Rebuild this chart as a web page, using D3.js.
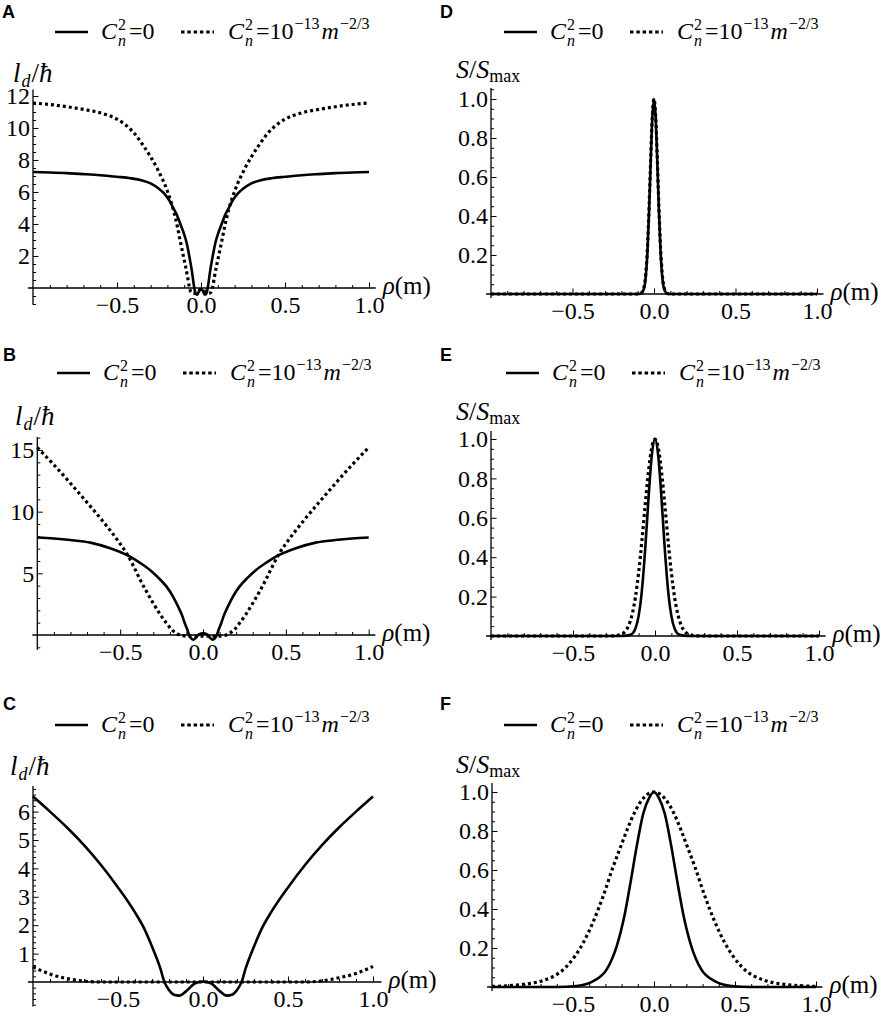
<!DOCTYPE html>
<html lang="en">
<head>
<meta charset="UTF-8">
<title>OAM density and intensity profiles</title>
<script src="https://d3js.org/d3.v7.min.js"></script>
<style>
  body { margin: 0; background: #fff; }
</style>
</head>
<body>
<script>
// ---- data ----
const xTicks = [-0.5, 0, 0.5, 1.0];
const yTicksA = [2, 4, 6, 8, 10, 12];
const yTicksB = [5, 10, 15];
const yTicksC = [1, 2, 3, 4, 5, 6];
const yTicksS = [0.2, 0.4, 0.6, 0.8, 1.0];

// panel A
const aSolidX = [-1, -0.9, -0.8, -0.7, -0.6, -0.5, -0.42, -0.35, -0.3, -0.25, -0.22, -0.19, -0.165, -0.145, -0.125, -0.105, -0.085, -0.07, -0.055, -0.045, -0.04, -0.03, -0.022, -0.012, 0,
                 0.012, 0.022, 0.03, 0.04, 0.045, 0.055, 0.07, 0.085, 0.105, 0.125, 0.145, 0.165, 0.19, 0.22, 0.25, 0.3, 0.35, 0.42, 0.5, 0.6, 0.7, 0.8, 0.9, 1];
const aSolidY = [7.25, 7.22, 7.18, 7.12, 7.05, 6.95, 6.86, 6.72, 6.54, 6.2, 5.92, 5.5, 5.0, 4.6, 4.06, 3.5, 2.8, 2.0, 1.1, 0.35, 0.0, -0.38, -0.42, -0.2, -0.05,
                 -0.2, -0.42, -0.38, 0.0, 0.35, 1.1, 2.0, 2.8, 3.5, 4.06, 4.6, 5.0, 5.5, 5.92, 6.2, 6.54, 6.72, 6.86, 6.95, 7.05, 7.12, 7.18, 7.22, 7.25];
const aDotX = [-1, -0.9, -0.8, -0.7, -0.6, -0.5, -0.45, -0.4, -0.34, -0.26, -0.2, -0.165, -0.14, -0.125, -0.11, -0.095, -0.08, -0.07, -0.06, -0.045, -0.025, 0,
               0.025, 0.045, 0.06, 0.07, 0.08, 0.095, 0.11, 0.125, 0.14, 0.165, 0.2, 0.26, 0.34, 0.4, 0.45, 0.5, 0.6, 0.7, 0.8, 0.9, 1];
const aDotY = [11.56, 11.47, 11.33, 11.16, 10.95, 10.55, 10.2, 9.7, 8.85, 7.45, 6.05, 4.9, 3.8, 3.0, 2.25, 1.5, 0.7, 0.1, -0.25, -0.35, -0.2, -0.1,
               -0.2, -0.35, -0.25, 0.1, 0.7, 1.5, 2.25, 3.0, 3.8, 4.9, 6.05, 7.45, 8.85, 9.7, 10.2, 10.55, 10.95, 11.16, 11.33, 11.47, 11.56];

// panel B
const bSolidX = [-1, -0.9, -0.8, -0.68, -0.56, -0.44, -0.38, -0.32, -0.27, -0.22, -0.18, -0.15, -0.125, -0.11, -0.095, -0.084, -0.07, -0.058, -0.045, -0.025, 0,
                 0.025, 0.045, 0.058, 0.07, 0.084, 0.095, 0.11, 0.125, 0.15, 0.18, 0.22, 0.27, 0.32, 0.38, 0.44, 0.56, 0.68, 0.8, 0.9, 1];
const bSolidY = [7.9, 7.82, 7.7, 7.49, 7.03, 6.35, 5.85, 5.27, 4.65, 3.92, 3.1, 2.3, 1.55, 0.95, 0.45, 0.0, -0.3, -0.38, -0.25, 0.05, 0.13,
                 0.05, -0.25, -0.38, -0.3, 0.0, 0.45, 0.95, 1.55, 2.3, 3.1, 3.92, 4.65, 5.27, 5.85, 6.35, 7.03, 7.49, 7.7, 7.82, 7.9];
const bDotX = [-1, -0.9, -0.8, -0.7, -0.6, -0.55, -0.5, -0.46, -0.42, -0.38, -0.34, -0.3, -0.26, -0.22, -0.19, -0.16, -0.13, -0.08, 0,
               0.08, 0.13, 0.16, 0.19, 0.22, 0.26, 0.3, 0.34, 0.38, 0.42, 0.46, 0.5, 0.55, 0.6, 0.7, 0.8, 0.9, 1];
const bDotY = [15.2, 13.8, 12.3, 10.75, 9.15, 8.3, 7.4, 6.6, 5.6, 4.5, 3.5, 2.57, 1.7, 0.95, 0.45, 0.14, -0.04, -0.1, -0.1,
               -0.1, -0.04, 0.14, 0.45, 0.95, 1.7, 2.57, 3.5, 4.5, 5.6, 6.6, 7.4, 8.3, 9.15, 10.75, 12.3, 13.8, 15.2];

// panel C
const cSolidX = [-1, -0.9, -0.8, -0.7, -0.6, -0.5, -0.4, -0.35, -0.3, -0.27, -0.25, -0.23, -0.2, -0.17, -0.14, -0.1, -0.05, 0,
                 0.05, 0.1, 0.14, 0.17, 0.2, 0.23, 0.25, 0.27, 0.3, 0.35, 0.4, 0.5, 0.6, 0.7, 0.8, 0.9, 1];
const cSolidY = [6.53, 6.0, 5.44, 4.82, 4.12, 3.33, 2.45, 1.93, 1.25, 0.8, 0.46, 0.05, -0.28, -0.45, -0.48, -0.33, -0.06, 0.02,
                 -0.06, -0.33, -0.48, -0.45, -0.28, 0.05, 0.46, 0.8, 1.25, 1.93, 2.45, 3.33, 4.12, 4.82, 5.44, 6.0, 6.53];
const cDotX = [-1, -0.9, -0.8, -0.7, -0.6, -0.4, -0.2, 0, 0.2, 0.4, 0.6, 0.7, 0.8, 0.9, 1];
const cDotY = [0.53, 0.28, 0.12, 0.03, 0.0, 0.0, 0.0, 0.0, 0.0, 0.0, 0.0, 0.04, 0.15, 0.3, 0.55];

// panel D
const dSolidX = [-1, -0.1, -0.08, -0.06, -0.05, -0.04, -0.03, -0.02, -0.01, 0, 0.01, 0.02, 0.03, 0.04, 0.05, 0.06, 0.08, 0.1, 1];
const dSolidY = [0, 0, 0.003, 0.033, 0.094, 0.22, 0.43, 0.685, 0.91, 1.0, 0.91, 0.685, 0.43, 0.22, 0.094, 0.033, 0.003, 0, 0];
const dDotX = [-1, -0.1, -0.08, -0.06, -0.05, -0.04, -0.03, -0.02, -0.01, 0, 0.01, 0.02, 0.03, 0.04, 0.05, 0.06, 0.08, 0.1, 1];
const dDotY = [0, 0, 0.004, 0.04, 0.11, 0.24, 0.45, 0.7, 0.915, 1.0, 0.915, 0.7, 0.45, 0.24, 0.11, 0.04, 0.004, 0, 0];

// panel E
const eSolidX = [-1, -0.2, -0.15, -0.12, -0.1, -0.08, -0.06, -0.04, -0.02, 0, 0.02, 0.04, 0.06, 0.08, 0.1, 0.12, 0.15, 0.2, 1];
const eSolidY = [0, 0, 0.006, 0.037, 0.101, 0.23, 0.438, 0.693, 0.912, 1.0, 0.912, 0.693, 0.438, 0.23, 0.101, 0.037, 0.006, 0, 0];
const eDotX = [-1, -0.3, -0.25, -0.2, -0.15, -0.12, -0.1, -0.08, -0.06, -0.04, -0.02, 0, 0.02, 0.04, 0.06, 0.08, 0.1, 0.12, 0.15, 0.2, 0.25, 0.3, 1];
const eDotY = [0, 0, 0.001, 0.011, 0.077, 0.194, 0.32, 0.482, 0.663, 0.833, 0.955, 1.0, 0.955, 0.833, 0.663, 0.482, 0.32, 0.194, 0.077, 0.011, 0.001, 0, 0];

// panel F
const fSolidX = [-1, -0.6, -0.478, -0.375, -0.292, -0.23, -0.179, -0.142, -0.107, -0.066, -0.03, 0, 0.03, 0.066, 0.107, 0.142, 0.179, 0.23, 0.292, 0.375, 0.478, 0.6, 1];
const fSolidY = [0, 0, 0.005, 0.03, 0.09, 0.21, 0.38, 0.55, 0.72, 0.89, 0.97, 1.0, 0.97, 0.89, 0.72, 0.55, 0.38, 0.21, 0.09, 0.03, 0.005, 0, 0];
const fDotX = [-1, -0.848, -0.683, -0.539, -0.436, -0.375, -0.313, -0.251, -0.21, -0.169, -0.12, -0.066, 0,
               0.066, 0.12, 0.169, 0.21, 0.251, 0.313, 0.375, 0.436, 0.539, 0.683, 0.848, 1];
const fDotY = [0.003, 0.01, 0.034, 0.106, 0.228, 0.335, 0.468, 0.62, 0.71, 0.80, 0.895, 0.968, 1.0,
               0.968, 0.895, 0.80, 0.71, 0.62, 0.468, 0.335, 0.228, 0.106, 0.034, 0.01, 0.003];

// ---- layout of the six panels ----
const panels = [
  {letter: "A", lp: [2, 18],    lg: [55, 32],   xr: [33, 369],     yd: [0, 12], yr: [288, 96],    yExt: [-1.05, 12.4], xExt: [-1.03, 1.04],
   yt: yTicksA, yStep: 0.5,  fmt: d3.format("d"),   ylab: "l", ylp: [13, 82],
   sx: aSolidX, sy: aSolidY, dx: aDotX, dy: aDotY},
  {letter: "B", lp: [3, 361],   lg: [57, 373],  xr: [37.3, 368.7], yd: [0, 15], yr: [635, 450],   yExt: [-1.2, 16.05], xExt: [-1.03, 1.04],
   yt: yTicksB, yStep: 1,    fmt: d3.format("d"),   ylab: "l", ylp: [15, 425],
   sx: bSolidX, sy: bSolidY, dx: bDotX, dy: bDotY},
  {letter: "C", lp: [3, 710],   lg: [55, 725],  xr: [33, 373],     yd: [0, 6],  yr: [982, 811.6], yExt: [-0.86, 6.9], xExt: [-1.03, 1.05],
   yt: yTicksC, yStep: 0.2,  fmt: d3.format("d"),   ylab: "l", ylp: [10, 775],
   sx: cSolidX, sy: cSolidY, dx: cDotX, dy: cDotY},
  {letter: "D", lp: [440, 18],  lg: [504, 32],  xr: [491, 817],    yd: [0, 1],  yr: [294, 99],    yExt: [-0.02, 1.056], xExt: [-1.03, 1.04],
   yt: yTicksS, yStep: 0.05, fmt: d3.format(".1f"), ylab: "S", ylp: [456, 78],
   sx: dSolidX, sy: dSolidY, dx: dDotX, dy: dDotY},
  {letter: "E", lp: [440, 361], lg: [506, 373], xr: [491, 819],    yd: [0, 1],  yr: [636, 439],   yExt: [-0.02, 1.04], xExt: [-1.03, 1.04],
   yt: yTicksS, yStep: 0.05, fmt: d3.format(".1f"), ylab: "S", ylp: [456, 420],
   sx: eSolidX, sy: eSolidY, dx: eDotX, dy: eDotY},
  {letter: "F", lp: [440, 710], lg: [504, 725], xr: [492, 816],    yd: [0, 1],  yr: [987, 792],   yExt: [-0.02, 1.046], xExt: [-1.03, 1.04],
   yt: yTicksS, yStep: 0.05, fmt: d3.format(".1f"), ylab: "S", ylp: [456, 773],
   sx: fSolidX, sy: fSolidY, dx: fDotX, dy: fDotY}
];

const serif = "'Liberation Serif', 'DejaVu Serif', 'Times New Roman', Times, serif";
const sans = "'Liberation Sans', Arial, 'DejaVu Sans', sans-serif";

const svg = d3.select("body").append("svg")
  .attr("width", 892)
  .attr("height", 1023)
  .style("font-family", serif);

// writes a run of text pieces left to right; "hold" stacks the next piece over this one
function rich(g, x, y, parts) {
  let cx = x, held = null;
  parts.forEach(p => {
    cx += p.pre || 0;
    const t = g.append("text")
      .attr("x", cx)
      .attr("y", y + (p.dy || 0))
      .style("font-family", serif)
      .style("font-size", p.size + "px")
      .style("font-style", p.it ? "italic" : "normal")
      .attr("fill", "#000")
      .text(p.t);
    const w = t.node().getComputedTextLength();
    if (p.hold) { held = w; return; }
    cx += Math.max(w, held || 0) + (p.post || 0);
    held = null;
  });
}

// one text element made of tspans (relative baseline shifts)
function spans(g, x, y, parts) {
  const t = g.append("text")
    .attr("x", x).attr("y", y)
    .style("font-family", serif)
    .attr("fill", "#000");
  parts.forEach(p => {
    t.append("tspan")
      .attr("dy", p.dy || 0)
      .attr("dx", p.dx || 0)
      .style("font-size", p.size + "px")
      .style("font-style", p.it ? "italic" : "normal")
      .text(p.t);
  });
}

const legendOne = [
  {t: "C", it: true, size: 24},
  {t: "2", size: 16, dy: -9, pre: 1, hold: true},
  {t: "n", it: true, size: 16, dy: 7},
  {t: "=", size: 24, pre: 3},
  {t: "0", size: 24}
];
const legendTwo = [
  {t: "C", it: true, size: 24},
  {t: "2", size: 16, dy: -9, pre: 1, hold: true},
  {t: "n", it: true, size: 16, dy: 7},
  {t: "=", size: 24, pre: 3},
  {t: "10", size: 24},
  {t: "\u221213", size: 16, dy: -10, pre: 1},
  {t: "m", it: true, size: 24, pre: 2},
  {t: "\u22122/3", size: 16, dy: -10, pre: 1}
];

panels.forEach(p => {
  const g = svg.append("g");
  const x = d3.scaleLinear().domain([-1, 1]).range(p.xr);
  const y = d3.scaleLinear().domain(p.yd).range(p.yr);

  // panel letter
  g.append("text")
    .attr("x", p.lp[0]).attr("y", p.lp[1])
    .style("font-family", sans)
    .style("font-weight", "bold")
    .style("font-size", "18px")
    .text(p.letter);

  // legend
  const lg = g.append("g");
  lg.append("line")
    .attr("x1", p.lg[0]).attr("x2", p.lg[0] + 33)
    .attr("y1", p.lg[1]).attr("y2", p.lg[1])
    .attr("stroke", "#000").attr("stroke-width", 2.6);
  rich(lg, p.lg[0] + 46, p.lg[1] + 7, legendOne);
  lg.append("line")
    .attr("x1", p.lg[0] + 126).attr("x2", p.lg[0] + 159)
    .attr("y1", p.lg[1]).attr("y2", p.lg[1])
    .attr("stroke", "#000").attr("stroke-width", 3)
    .attr("stroke-dasharray", "3.5,2.8");
  rich(lg, p.lg[0] + 173, p.lg[1] + 7, legendTwo);

  // y axis title
  if (p.ylab === "l") {
    spans(g, p.ylp[0], p.ylp[1], [
      {t: "l", it: true, size: 27},
      {t: "d", it: true, size: 18, dy: 5, dx: 1},
      {t: "/", size: 27, dy: -5, dx: 1},
      {t: "\u0127", it: true, size: 27}
    ]);
  } else {
    spans(g, p.ylp[0], p.ylp[1], [
      {t: "S", it: true, size: 26},
      {t: "/", size: 26},
      {t: "S", it: true, size: 26},
      {t: "max", size: 18, dy: 4}
    ]);
  }

  // axis lines
  g.append("line")
    .attr("x1", x(p.xExt[0])).attr("x2", x(p.xExt[1]))
    .attr("y1", y(0)).attr("y2", y(0))
    .attr("stroke", "#000").attr("stroke-width", 1.3);
  g.append("line")
    .attr("x1", x(-1)).attr("x2", x(-1))
    .attr("y1", y(p.yExt[0])).attr("y2", y(p.yExt[1]))
    .attr("stroke", "#000").attr("stroke-width", 1.3);

  // x ticks: minor every 0.1, major every 0.5, pointing up
  const xMinor = d3.range(-10, 11).map(i => i / 10).filter(v => !xTicks.includes(v) && v !== -1);
  g.append("g").attr("transform", `translate(0,${y(0)})`)
    .call(d3.axisBottom(x).tickValues(xMinor).tickSizeInner(-3).tickSizeOuter(0).tickFormat(""))
    .call(a => a.select(".domain").remove());
  g.append("g").attr("transform", `translate(0,${y(0)})`)
    .call(d3.axisBottom(x).tickValues(xTicks).tickSizeInner(-5.5).tickSizeOuter(0)
      .tickPadding(8).tickFormat(d3.format(".1f")))
    .call(a => a.select(".domain").remove());

  // y ticks pointing right
  const n0 = Math.ceil(p.yExt[0] / p.yStep), n1 = Math.floor(p.yExt[1] / p.yStep);
  const yMinor = d3.range(n0, n1 + 1).map(i => +(i * p.yStep).toFixed(4))
    .filter(v => v !== 0 && !p.yt.some(t => Math.abs(t - v) < 1e-6));
  g.append("g").attr("transform", `translate(${x(-1)},0)`)
    .call(d3.axisLeft(y).tickValues(yMinor).tickSizeInner(-3).tickSizeOuter(0).tickFormat(""))
    .call(a => a.select(".domain").remove());
  g.append("g").attr("transform", `translate(${x(-1)},0)`)
    .call(d3.axisLeft(y).tickValues(p.yt).tickSizeInner(-5.5).tickSizeOuter(0)
      .tickPadding(3).tickFormat(p.fmt))
    .call(a => a.select(".domain").remove());
  g.selectAll(".tick line").attr("stroke", "#000").attr("stroke-width", 1);
  g.selectAll(".tick text")
    .attr("fill", "#000")
    .style("font-family", serif)
    .style("font-size", "24px");

  // rho label at the end of the x axis
  spans(g, x(p.xExt[1]) + 7, y(0) + 6, [
    {t: "\u03c1", it: true, size: 25},
    {t: "(m)", size: 25}
  ]);

  // curves
  const line = d3.line()
    .x(d => x(d[0]))
    .y(d => y(d[1]))
    .curve(d3.curveMonotoneX);

  g.append("path")
    .datum(p.sx.map((v, i) => [v, p.sy[i]]))
    .attr("fill", "none")
    .attr("stroke", "#000")
    .attr("stroke-width", 2.6)
    .attr("d", line);

  g.append("path")
    .datum(p.dx.map((v, i) => [v, p.dy[i]]))
    .attr("fill", "none")
    .attr("stroke", "#000")
    .attr("stroke-width", 3.2)
    .attr("stroke-dasharray", "3,3")
    .attr("d", line);
});
</script>
</body>
</html>
